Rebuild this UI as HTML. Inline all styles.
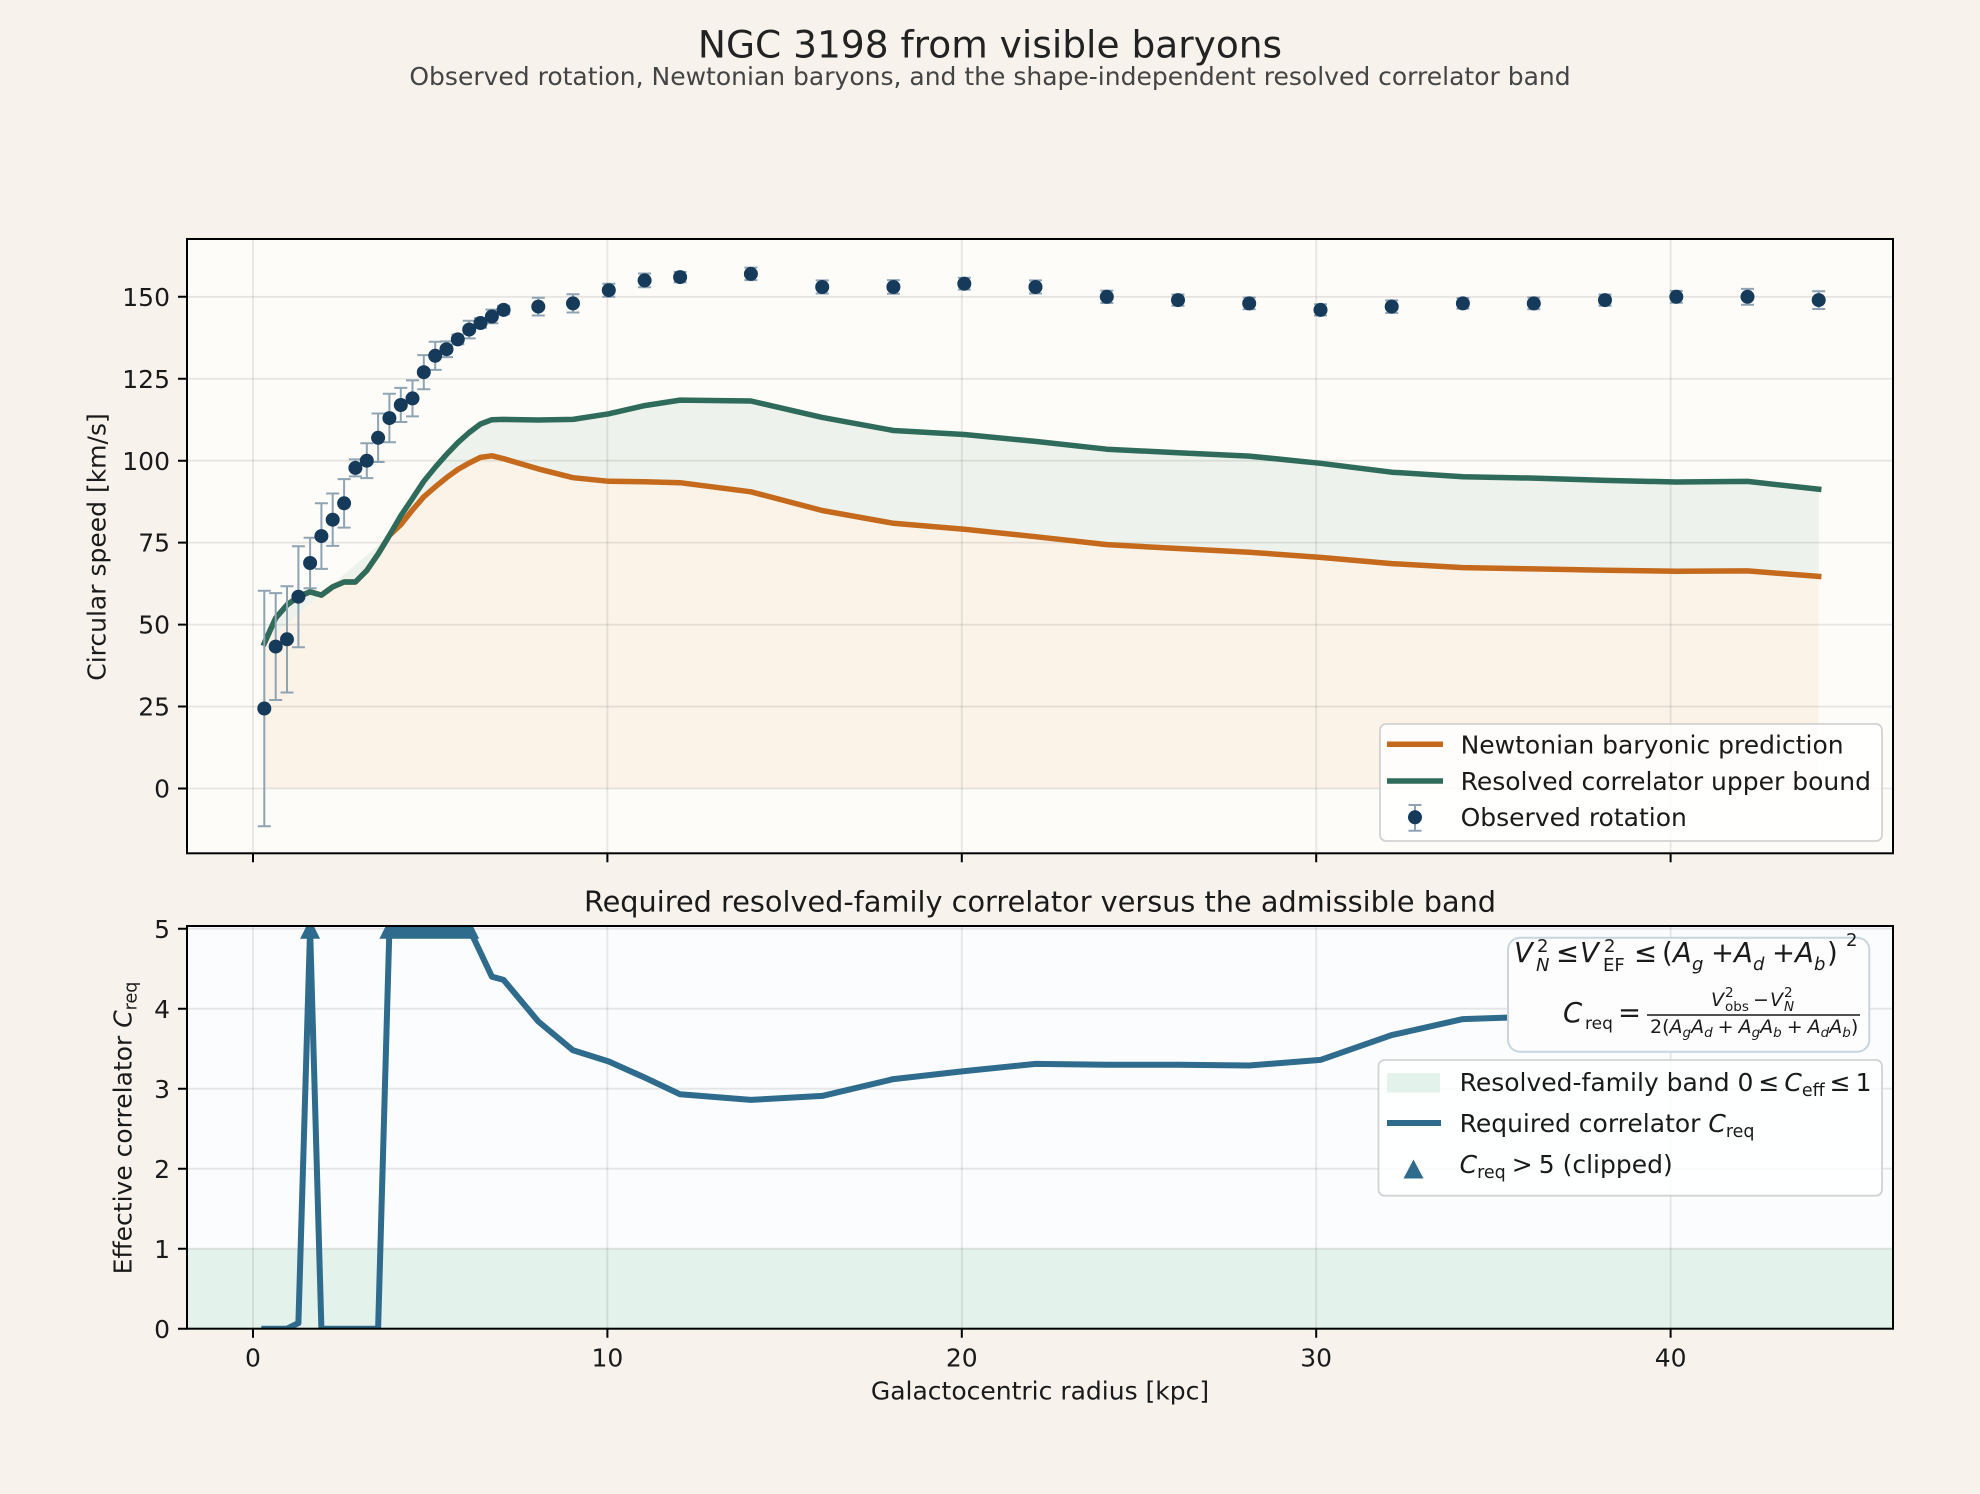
<!DOCTYPE html>
<html><head><meta charset="utf-8"><style>
html,body{margin:0;padding:0;background:#f7f3ec}
svg{display:block}
text{font-family:"DejaVu Sans","Liberation Sans",sans-serif;fill:#1a1a1a}
.it{font-style:italic}
</style></head><body>
<svg width="1980" height="1494" viewBox="0 0 1980 1494" xmlns="http://www.w3.org/2000/svg">
<defs>
<clipPath id="ct"><rect x="187" y="239" width="1706" height="614.3"/></clipPath>
<clipPath id="cb"><rect x="187" y="926" width="1706" height="402.7"/></clipPath>
</defs>
<rect x="0" y="0" width="1980" height="1494" fill="#f7f3ec"/>

<!-- Titles -->
<text x="990" y="57.3" text-anchor="middle" font-size="37.5" style="fill:#222">NGC 3198 from visible baryons</text>
<text x="990" y="85" text-anchor="middle" font-size="25" style="fill:#444">Observed rotation, Newtonian baryons, and the shape-independent resolved correlator band</text>

<!-- ================= TOP AXES ================= -->
<rect x="187" y="239" width="1706" height="614.3" fill="#fdfcf8"/>
<g clip-path="url(#ct)">
<polygon fill="#fbf3e8" points="264.3,788.5 264.3,643.3 275.7,618.0 287.0,604.9 298.4,596.7 310.1,591.8 321.4,595.1 332.7,586.9 344.1,582.0 355.4,582.0 366.8,570.5 378.1,554.1 389.4,535.4 400.8,524.6 412.5,509.9 423.8,496.8 435.2,486.9 446.5,477.7 457.8,469.5 469.2,463.0 480.5,457.4 491.9,455.8 503.6,458.7 538.3,468.9 573.0,477.7 608.8,481.3 644.6,481.7 680.1,482.7 750.9,491.8 822.2,510.5 893.4,523.3 964.3,529.2 1035.5,536.7 1106.8,544.6 1178.0,548.5 1249.2,552.2 1320.5,557.4 1391.7,563.6 1462.9,567.6 1533.8,568.9 1605.0,570.2 1676.3,571.2 1747.5,570.9 1818.7,576.4 1818.7,788.5"/>
<polygon fill="#edf3ec" points="264.3,643.3 275.7,618.0 287.0,604.9 298.4,596.7 310.1,591.8 321.4,595.1 332.7,586.9 344.1,582.0 355.4,582.0 366.8,570.5 378.1,554.1 389.4,535.4 400.8,515.8 412.5,498.4 423.8,481.3 435.2,467.3 446.5,454.5 457.8,442.7 469.2,432.5 480.5,424.0 491.9,419.7 503.6,419.4 538.3,420.0 573.0,419.4 608.8,413.8 644.6,405.6 680.1,400.1 750.9,401.0 822.2,417.4 893.4,430.5 964.3,434.5 1035.5,441.4 1106.8,449.2 1178.0,452.8 1249.2,456.1 1320.5,463.3 1391.7,472.2 1462.9,476.8 1533.8,478.1 1605.0,480.4 1676.3,482.0 1747.5,481.4 1818.7,489.2 1818.7,576.4 1747.5,570.9 1676.3,571.2 1605.0,570.2 1533.8,568.9 1462.9,567.6 1391.7,563.6 1320.5,557.4 1249.2,552.2 1178.0,548.5 1106.8,544.6 1035.5,536.7 964.3,529.2 893.4,523.3 822.2,510.5 750.9,491.8 680.1,482.7 644.6,481.7 608.8,481.3 573.0,477.7 538.3,468.9 503.6,458.7 491.9,455.8 480.5,457.4 469.2,463.0 457.8,469.5 446.5,477.7 435.2,486.9 423.8,496.8 412.5,509.9 400.8,524.6 389.4,535.4"/>
<g stroke="#000" stroke-opacity="0.09" stroke-width="1.8">
<path d="M253 239V853.3M607.4 239V853.3M961.8 239V853.3M1316.2 239V853.3M1670.6 239V853.3"/>
<path d="M187 788.5H1893M187 706.55H1893M187 624.6H1893M187 542.65H1893M187 460.7H1893M187 378.75H1893M187 296.8H1893"/>
</g>
<polyline fill="none" stroke="#c56a1c" stroke-width="5.5" stroke-linejoin="round" stroke-linecap="square" points="264.3,643.3 275.7,618.0 287.0,604.9 298.4,596.7 310.1,591.8 321.4,595.1 332.7,586.9 344.1,582.0 355.4,582.0 366.8,570.5 378.1,554.1 389.4,535.4 400.8,524.6 412.5,509.9 423.8,496.8 435.2,486.9 446.5,477.7 457.8,469.5 469.2,463.0 480.5,457.4 491.9,455.8 503.6,458.7 538.3,468.9 573.0,477.7 608.8,481.3 644.6,481.7 680.1,482.7 750.9,491.8 822.2,510.5 893.4,523.3 964.3,529.2 1035.5,536.7 1106.8,544.6 1178.0,548.5 1249.2,552.2 1320.5,557.4 1391.7,563.6 1462.9,567.6 1533.8,568.9 1605.0,570.2 1676.3,571.2 1747.5,570.9 1818.7,576.4"/>
<polyline fill="none" stroke="#2f6b5b" stroke-width="5.5" stroke-linejoin="round" stroke-linecap="square" points="264.3,643.3 275.7,618.0 287.0,604.9 298.4,596.7 310.1,591.8 321.4,595.1 332.7,586.9 344.1,582.0 355.4,582.0 366.8,570.5 378.1,554.1 389.4,535.4 400.8,515.8 412.5,498.4 423.8,481.3 435.2,467.3 446.5,454.5 457.8,442.7 469.2,432.5 480.5,424.0 491.9,419.7 503.6,419.4 538.3,420.0 573.0,419.4 608.8,413.8 644.6,405.6 680.1,400.1 750.9,401.0 822.2,417.4 893.4,430.5 964.3,434.5 1035.5,441.4 1106.8,449.2 1178.0,452.8 1249.2,456.1 1320.5,463.3 1391.7,472.2 1462.9,476.8 1533.8,478.1 1605.0,480.4 1676.3,482.0 1747.5,481.4 1818.7,489.2"/>
<path fill="none" stroke="#8ea3b4" stroke-width="2" d="
M264.3 826.2V590.8M257.8 826.2H270.8M257.8 590.8H270.8
M275.7 700.0V593.1M269.2 700.0H282.2M269.2 593.1H282.2
M287.0 692.5V586.3M280.5 692.5H293.5M280.5 586.3H293.5
M298.4 647.2V546.3M291.9 647.2H304.9M291.9 546.3H304.9
M310.1 588.2V537.7M303.6 588.2H316.6M303.6 537.7H316.6
M321.4 568.9V503.3M314.9 568.9H327.9M314.9 503.3H327.9
M332.7 545.9V493.5M326.2 545.9H339.2M326.2 493.5H339.2
M344.1 527.6V479.1M337.6 527.6H350.6M337.6 479.1H350.6
M355.4 476.4V459.4M348.9 476.4H361.9M348.9 459.4H361.9
M366.8 478.1V443.3M360.3 478.1H373.3M360.3 443.3H373.3
M378.1 462.0V413.5M371.6 462.0H384.6M371.6 413.5H384.6
M389.4 442.3V393.8M382.9 442.3H395.9M382.9 393.8H395.9
M400.8 422.0V387.9M394.3 422.0H407.3M394.3 387.9H407.3
M412.5 416.4V380.4M406.0 416.4H419.0M406.0 380.4H419.0
M423.8 389.2V355.1M417.3 389.2H430.3M417.3 355.1H430.3
M435.2 369.9V341.7M428.7 369.9H441.7M428.7 341.7H441.7
M446.5 357.1V341.4M440.0 357.1H453.0M440.0 341.4H453.0
M457.8 344.3V334.5M451.3 344.3H464.3M451.3 334.5H464.3
M469.2 338.4V320.7M462.7 338.4H475.7M462.7 320.7H475.7
M480.5 327.9V318.1M474.0 327.9H487.0M474.0 318.1H487.0
M491.9 323.3V309.6M485.4 323.3H498.4M485.4 309.6H498.4
M503.6 314.2V305.7M497.1 314.2H510.1M497.1 305.7H510.1
M538.3 315.5V297.8M531.8 315.5H544.8M531.8 297.8H544.8
M573.0 312.5V294.2M566.5 312.5H579.5M566.5 294.2H579.5
M608.8 296.8V283.7M602.3 296.8H615.3M602.3 283.7H615.3
M644.6 287.3V273.5M638.1 287.3H651.1M638.1 273.5H651.1
M680.1 282.4V271.9M673.6 282.4H686.6M673.6 271.9H686.6
M750.9 280.1V267.6M744.4 280.1H757.4M744.4 267.6H757.4
M822.2 293.5V280.4M815.7 293.5H828.7M815.7 280.4H828.7
M893.4 293.8V280.1M886.9 293.8H899.9M886.9 280.1H899.9
M964.3 289.6V277.8M957.8 289.6H970.8M957.8 277.8H970.8
M1035.5 293.5V280.4M1029.0 293.5H1042.0M1029.0 280.4H1042.0
M1106.8 303.0V290.6M1100.3 303.0H1113.3M1100.3 290.6H1113.3
M1178.0 305.7V294.5M1171.5 305.7H1184.5M1171.5 294.5H1184.5
M1249.2 309.3V297.5M1242.7 309.3H1255.7M1242.7 297.5H1255.7
M1320.5 315.5V304.3M1314.0 315.5H1327.0M1314.0 304.3H1327.0
M1391.7 312.9V300.4M1385.2 312.9H1398.2M1385.2 300.4H1398.2
M1462.9 308.6V298.1M1456.4 308.6H1469.4M1456.4 298.1H1469.4
M1533.8 309.3V297.5M1527.3 309.3H1540.3M1527.3 297.5H1540.3
M1605.0 305.7V294.5M1598.5 305.7H1611.5M1598.5 294.5H1611.5
M1676.3 302.7V290.9M1669.8 302.7H1682.8M1669.8 290.9H1682.8
M1747.5 304.7V288.9M1741.0 304.7H1754.0M1741.0 288.9H1754.0
M1818.7 309.0V291.2M1812.2 309.0H1825.2M1812.2 291.2H1825.2"/>
<g fill="#163a5a">
<circle cx="264.3" cy="708.5" r="7"/><circle cx="275.7" cy="646.6" r="7"/><circle cx="287.0" cy="639.3" r="7"/><circle cx="298.4" cy="596.7" r="7"/><circle cx="310.1" cy="563.0" r="7"/><circle cx="321.4" cy="536.1" r="7"/><circle cx="332.7" cy="519.7" r="7"/><circle cx="344.1" cy="503.3" r="7"/><circle cx="355.4" cy="467.9" r="7"/><circle cx="366.8" cy="460.7" r="7"/><circle cx="378.1" cy="437.8" r="7"/><circle cx="389.4" cy="418.1" r="7"/><circle cx="400.8" cy="405.0" r="7"/><circle cx="412.5" cy="398.4" r="7"/><circle cx="423.8" cy="372.2" r="7"/><circle cx="435.2" cy="355.8" r="7"/><circle cx="446.5" cy="349.2" r="7"/><circle cx="457.8" cy="339.4" r="7"/><circle cx="469.2" cy="329.6" r="7"/><circle cx="480.5" cy="323.0" r="7"/><circle cx="491.9" cy="316.5" r="7"/><circle cx="503.6" cy="309.9" r="7"/><circle cx="538.3" cy="306.6" r="7"/><circle cx="573.0" cy="303.4" r="7"/><circle cx="608.8" cy="290.2" r="7"/><circle cx="644.6" cy="280.4" r="7"/><circle cx="680.1" cy="277.1" r="7"/><circle cx="750.9" cy="273.9" r="7"/><circle cx="822.2" cy="287.0" r="7"/><circle cx="893.4" cy="287.0" r="7"/><circle cx="964.3" cy="283.7" r="7"/><circle cx="1035.5" cy="287.0" r="7"/><circle cx="1106.8" cy="296.8" r="7"/><circle cx="1178.0" cy="300.1" r="7"/><circle cx="1249.2" cy="303.4" r="7"/><circle cx="1320.5" cy="309.9" r="7"/><circle cx="1391.7" cy="306.6" r="7"/><circle cx="1462.9" cy="303.4" r="7"/><circle cx="1533.8" cy="303.4" r="7"/><circle cx="1605.0" cy="300.1" r="7"/><circle cx="1676.3" cy="296.8" r="7"/><circle cx="1747.5" cy="296.8" r="7"/><circle cx="1818.7" cy="300.1" r="7"/>
</g>
</g>
<rect x="1380" y="724" width="502" height="117" rx="6" ry="6" fill="#ffffff" fill-opacity="0.82" stroke="#d2d2d2" stroke-width="1.8"/>
<line x1="1387" y1="744.3" x2="1443" y2="744.3" stroke="#c56a1c" stroke-width="5.5"/>
<line x1="1387" y1="781" x2="1443" y2="781" stroke="#2f6b5b" stroke-width="5.5"/>
<path d="M1415 805V830.7M1408.5 805H1421.5M1408.5 830.7H1421.5" stroke="#8ea3b4" stroke-width="2" fill="none"/>
<circle cx="1415" cy="817.3" r="7" fill="#163a5a"/>
<text x="1460.6" y="753.5" font-size="25">Newtonian baryonic prediction</text>
<text x="1460.6" y="790" font-size="25">Resolved correlator upper bound</text>
<text x="1460.6" y="826" font-size="25">Observed rotation</text>
<rect x="187" y="239" width="1706" height="614.3" fill="none" stroke="#000" stroke-width="2"/>
<path stroke="#000" stroke-width="2" d="M178 788.5H187M178 706.55H187M178 624.6H187M178 542.65H187M178 460.7H187M178 378.75H187M178 296.8H187M253 853.3V862.3M607.4 853.3V862.3M961.8 853.3V862.3M1316.2 853.3V862.3M1670.6 853.3V862.3"/>
<g font-size="25" text-anchor="end">
<text x="170" y="797.6">0</text>
<text x="170" y="715.6">25</text>
<text x="170" y="633.7">50</text>
<text x="170" y="551.7">75</text>
<text x="170" y="469.8">100</text>
<text x="170" y="387.8">125</text>
<text x="170" y="305.9">150</text>
</g>
<text transform="translate(105.5,547) rotate(-90)" text-anchor="middle" font-size="25">Circular speed [km/s]</text>

<!-- ================= BOTTOM AXES ================= -->
<text x="1040" y="911.7" text-anchor="middle" font-size="28.75">Required resolved-family correlator versus the admissible band</text>
<rect x="187" y="926" width="1706" height="402.7" fill="#fafcfe"/>
<g clip-path="url(#cb)">
<rect x="187" y="1248.7" width="1706" height="80" fill="#e3f2ea"/>
<g stroke="#000" stroke-opacity="0.09" stroke-width="1.8">
<path d="M253 926V1328.7M607.4 926V1328.7M961.8 926V1328.7M1316.2 926V1328.7M1670.6 926V1328.7"/>
<path d="M187 1248.7H1893M187 1168.7H1893M187 1088.7H1893M187 1008.7H1893M187 928.7H1893"/>
</g>
<polyline fill="none" stroke="#2e6b8c" stroke-width="6" stroke-linejoin="round" stroke-linecap="square" points="264.3,1328.7 275.7,1328.7 287.0,1328.7 298.4,1323.1 310.1,928.7 321.4,1328.7 332.7,1328.7 344.1,1328.7 355.4,1328.7 366.8,1328.7 378.1,1328.7 389.4,928.7 400.8,928.7 412.5,928.7 423.8,928.7 435.2,928.7 446.5,928.7 457.8,928.7 469.2,928.7 491.9,976.7 503.6,979.9 538.3,1021.5 573.0,1050.3 608.8,1061.5 644.6,1077.5 680.1,1094.3 750.9,1099.9 822.2,1095.9 893.4,1079.1 964.3,1071.1 1035.5,1063.9 1106.8,1064.7 1178.0,1064.7 1249.2,1065.5 1320.5,1059.9 1391.7,1035.1 1462.9,1019.1 1533.8,1016.7 1605.0,1010.0 1676.3,1006.0 1747.5,1003.0 1818.7,1003.0"/>
<path fill="#2e6b8c" d="M310.1 918.7L300.1 938.7H320.1ZM389.4 918.7L379.4 938.7H399.4ZM400.8 918.7L390.8 938.7H410.8ZM412.5 918.7L402.5 938.7H422.5ZM423.8 918.7L413.8 938.7H433.8ZM435.2 918.7L425.2 938.7H445.2ZM446.5 918.7L436.5 938.7H456.5ZM457.8 918.7L447.8 938.7H467.8ZM469.2 918.7L459.2 938.7H479.2Z"/>
</g>
<!-- annotation box -->
<rect x="1508" y="937.7" width="361.3" height="114" rx="12" ry="12" fill="#fdfdfe" stroke="#c8d5df" stroke-width="2"/>
<g font-size="27.5">
<text x="1514" y="962" class="it">V</text>
<text x="1537" y="952" font-size="18">2</text>
<text x="1536" y="971" font-size="18" class="it">N</text>
<text x="1556" y="962">≤</text>
<text x="1580" y="962" class="it">V</text>
<text x="1604" y="952" font-size="18">2</text>
<text x="1603" y="971" font-size="18">EF</text>
<text x="1634" y="962">≤</text>
<text x="1662" y="962">(</text>
<text x="1673" y="962" class="it">A</text>
<text x="1692" y="970" font-size="18" class="it">g</text>
<text x="1711" y="962">+</text>
<text x="1734" y="962" class="it">A</text>
<text x="1753" y="970" font-size="18" class="it">d</text>
<text x="1772" y="962">+</text>
<text x="1795" y="962" class="it">A</text>
<text x="1814" y="970" font-size="18" class="it">b</text>
<text x="1827" y="962">)</text>
<text x="1846" y="946" font-size="18">2</text>
<text x="1563" y="1022" class="it">C</text>
<text x="1585" y="1029" font-size="17">req</text>
<text x="1618" y="1022">=</text>
</g>
<line x1="1647" y1="1015" x2="1860" y2="1015" stroke="#1a1a1a" stroke-width="1.4"/>
<g font-size="19">
<text x="1711" y="1006" class="it">V</text>
<text x="1725" y="997" font-size="13.5">2</text>
<text x="1725" y="1011" font-size="13.5">obs</text>
<text x="1753" y="1006">−</text>
<text x="1770" y="1006" class="it">V</text>
<text x="1784" y="997" font-size="13.5">2</text>
<text x="1784" y="1011" font-size="13.5" class="it">N</text>
<text x="1650" y="1033">2(<tspan class="it">A</tspan><tspan class="it" font-size="13.5" dy="4">g</tspan><tspan class="it" dy="-4">A</tspan><tspan class="it" font-size="13.5" dy="4">d</tspan><tspan dy="-4" dx="5">+</tspan><tspan dx="5" class="it">A</tspan><tspan class="it" font-size="13.5" dy="4">g</tspan><tspan class="it" dy="-4">A</tspan><tspan class="it" font-size="13.5" dy="4">b</tspan><tspan dy="-4" dx="5">+</tspan><tspan dx="5" class="it">A</tspan><tspan class="it" font-size="13.5" dy="4">d</tspan><tspan class="it" dy="-4">A</tspan><tspan class="it" font-size="13.5" dy="4">b</tspan><tspan dy="-4">)</tspan></text>
</g>
<!-- bottom legend -->
<rect x="1378.5" y="1060" width="503.5" height="135.7" rx="6" ry="6" fill="#ffffff" fill-opacity="0.82" stroke="#d2d2d2" stroke-width="1.8"/>
<rect x="1387" y="1073" width="53" height="19.5" fill="#e3f2ea"/>
<line x1="1387" y1="1123" x2="1441" y2="1123" stroke="#2e6b8c" stroke-width="6"/>
<path fill="#2e6b8c" d="M1413.5 1159.5L1403.5 1178.5H1423.5Z"/>
<g font-size="25">
<text x="1459.6" y="1091">Resolved-family band 0<tspan dx="5">≤</tspan><tspan dx="5" class="it">C</tspan><tspan font-size="17.5" dy="5">eff</tspan><tspan dy="-5" dx="5">≤</tspan><tspan dx="5">1</tspan></text>
<text x="1459.6" y="1132">Required correlator <tspan class="it">C</tspan><tspan font-size="17.5" dy="5">req</tspan></text>
<text x="1459.6" y="1173"><tspan class="it">C</tspan><tspan font-size="17.5" dy="5">req</tspan><tspan dy="-5" dx="6">&gt;</tspan><tspan dx="6">5</tspan><tspan dx="8">(clipped)</tspan></text>
</g>
<rect x="187" y="926" width="1706" height="402.7" fill="none" stroke="#000" stroke-width="2"/>
<path stroke="#000" stroke-width="2" d="M178 1328.7H187M178 1248.7H187M178 1168.7H187M178 1088.7H187M178 1008.7H187M178 928.7H187M253 1328.7V1337.7M607.4 1328.7V1337.7M961.8 1328.7V1337.7M1316.2 1328.7V1337.7M1670.6 1328.7V1337.7"/>
<g font-size="25" text-anchor="end">
<text x="170" y="1337.8">0</text>
<text x="170" y="1257.8">1</text>
<text x="170" y="1177.8">2</text>
<text x="170" y="1097.8">3</text>
<text x="170" y="1017.8">4</text>
<text x="170" y="937.8">5</text>
</g>
<g font-size="25" text-anchor="middle">
<text x="253" y="1366.5">0</text>
<text x="607.4" y="1366.5">10</text>
<text x="961.8" y="1366.5">20</text>
<text x="1316.2" y="1366.5">30</text>
<text x="1670.6" y="1366.5">40</text>
</g>
<text x="1040" y="1399.5" text-anchor="middle" font-size="25">Galactocentric radius [kpc]</text>
<text transform="translate(131.5,1128) rotate(-90)" text-anchor="middle" font-size="25">Effective correlator <tspan class="it">C</tspan><tspan font-size="17.5" dy="5">req</tspan></text>
</svg>
</body></html>
